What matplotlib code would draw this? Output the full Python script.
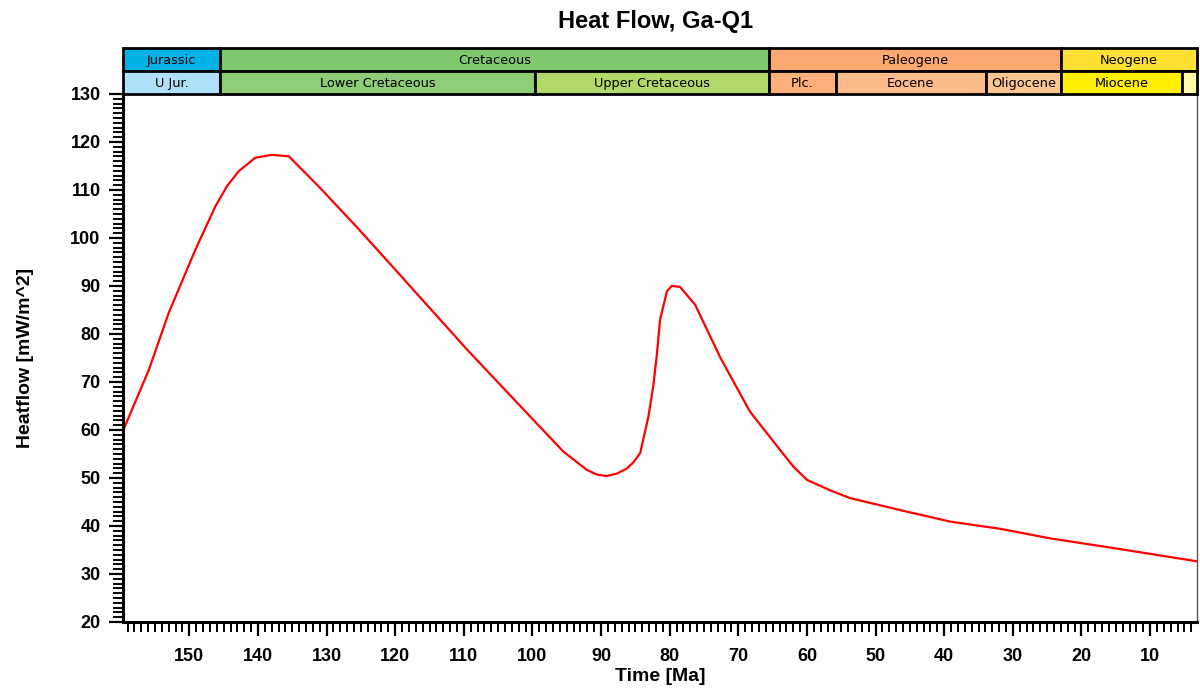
import matplotlib
matplotlib.use("Agg")
import matplotlib.pyplot as plt
from matplotlib.patches import Rectangle
from matplotlib.ticker import MultipleLocator

# heat flow history (age in Ma, heat flow in mW/m^2)
age = [159.7, 155.9, 153.0, 149.1, 146.2, 144.5, 142.8, 140.4, 138.0, 135.5,
       131.2, 125.3, 119.3, 117.3, 109.5, 100.8, 95.5, 92.1, 90.6, 89.2,
       87.7, 86.2, 85.2, 84.3, 83.1, 82.4, 81.9, 81.4, 80.4, 79.7,
       78.5, 76.3, 72.6, 68.3, 63.9, 62.0, 60.0, 56.6, 53.7, 46.4,
       39.1, 31.8, 24.5, 14.9, 3.0]
heatflow = [59.7, 72.5, 84.4, 97.6, 106.6, 110.8, 113.9, 116.7, 117.3, 117.0,
            110.8, 101.8, 92.3, 89.1, 76.7, 63.5, 55.5, 51.7, 50.7, 50.4,
            50.9, 52.0, 53.4, 55.2, 62.8, 69.1, 75.3, 83.0, 88.9, 90.0,
            89.8, 86.1, 75.0, 63.8, 55.8, 52.4, 49.6, 47.4, 45.8, 43.3,
            40.9, 39.4, 37.4, 35.3, 32.6]

# stratigraphic columns (older, younger boundary in Ma)
periods = ["Jurassic", "Cretaceous", "Paleogene", "Neogene"]
period_old = [161.2, 145.5, 65.5, 23.03]
period_young = [145.5, 65.5, 23.03, 2.588]
period_colors = ["#00b2e6", "#80c870", "#fba873", "#ffe033"]

epochs = ["U Jur.", "Lower Cretaceous", "Upper Cretaceous", "Plc.", "Eocene",
          "Oligocene", "Miocene", ""]
epoch_old = [161.2, 145.5, 99.6, 65.5, 55.8, 33.9, 23.03, 5.332]
epoch_young = [145.5, 99.6, 65.5, 55.8, 33.9, 23.03, 5.332, 2.588]
epoch_colors = ["#aee0f8", "#8ecc78", "#b2d86a", "#fbaf7a", "#fcbb88",
                "#fdc592", "#fff000", "#fffaa8"]

t_max, t_min = 159.7, 3.2

fig = plt.figure(figsize=(12, 6.93), dpi=100)
ax = fig.add_axes([0.1023, 0.1025, 0.8950, 0.762])
strat = fig.add_axes([0.1023, 0.8644, 0.8950, 0.0664], sharex=ax)

ax.plot(age, heatflow, color="red", lw=1.6)
ax.set_xlim(t_max, t_min)
ax.set_ylim(20, 130)

ax.xaxis.set_major_locator(MultipleLocator(10))
ax.xaxis.set_minor_locator(MultipleLocator(1))
ax.yaxis.set_major_locator(MultipleLocator(10))
ax.yaxis.set_minor_locator(MultipleLocator(1))
ax.tick_params(which="major", length=10, width=1.6, direction="out")
ax.tick_params(which="minor", length=7, width=1.4, direction="out")
ax.tick_params(axis="x", which="major", pad=9)
ax.tick_params(axis="y", which="major", pad=6)
for lab in ax.get_xticklabels() + ax.get_yticklabels():
    lab.set_fontfamily("Liberation Sans")
    lab.set_fontweight("bold")
    lab.set_fontsize(13)

ax.spines["left"].set_linewidth(2.2)
ax.spines["bottom"].set_linewidth(2.2)
ax.spines["right"].set_linewidth(1)
ax.spines["right"].set_color("#555555")
ax.spines["top"].set_visible(False)

ax.set_xlabel("Time [Ma]", fontsize=14, fontweight="bold",
              fontfamily="Liberation Sans", labelpad=2)
ax.set_ylabel("Heatflow [mW/m^2]", fontsize=14, fontweight="bold",
              fontfamily="Liberation Sans", labelpad=26)
fig.suptitle("Heat Flow, Ga-Q1", x=0.546, y=0.985, fontsize=17,
             fontweight="bold", fontfamily="Liberation Sans")


def draw_row(names, olds, youngs, colors, y0):
    for name, old, young, c in zip(names, olds, youngs, colors):
        old = min(old, t_max)
        young = max(young, t_min)
        strat.add_patch(Rectangle((young, y0), old - young, 1, facecolor=c,
                                  edgecolor="black", lw=2, clip_on=False))
        strat.text((old + young) / 2, y0 + 0.47, name, ha="center",
                   va="center", fontsize=9.3, fontfamily="DejaVu Sans")


draw_row(periods, period_old, period_young, period_colors, 1)
draw_row(epochs, epoch_old, epoch_young, epoch_colors, 0)
strat.set_ylim(0, 2)
strat.axis("off")

fig.savefig("out.png", dpi=100)
